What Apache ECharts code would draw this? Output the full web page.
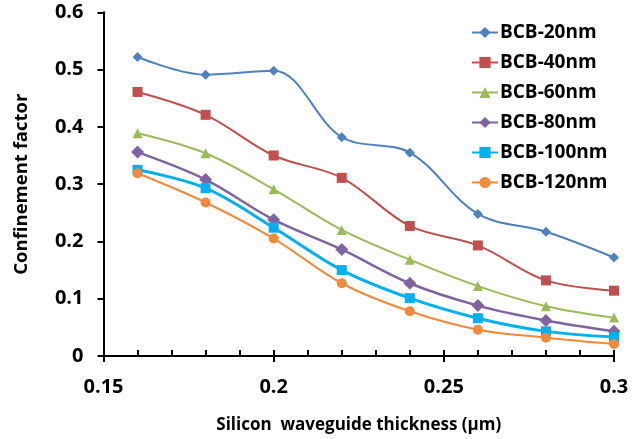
<!DOCTYPE html>
<html><head><meta charset="utf-8">
<script src="https://cdn.jsdelivr.net/npm/echarts@6/dist/echarts.min.js"></script>
<style>html,body{margin:0;padding:0;background:#fff}#c{width:643px;height:439px}</style>
</head><body><div id="c"></div>
<script>
const xValues = [0.16, 0.18, 0.20, 0.22, 0.24, 0.26, 0.28, 0.30];
const seriesNames = ['BCB-20nm','BCB-40nm','BCB-60nm','BCB-80nm','BCB-100nm','BCB-120nm'];
const bcb20  = [0.522, 0.491, 0.498, 0.382, 0.355, 0.248, 0.217, 0.172];
const bcb40  = [0.461, 0.421, 0.350, 0.311, 0.227, 0.193, 0.132, 0.114];
const bcb60  = [0.389, 0.354, 0.291, 0.220, 0.168, 0.122, 0.087, 0.067];
const bcb80  = [0.356, 0.308, 0.238, 0.186, 0.127, 0.088, 0.062, 0.043];
const bcb100 = [0.325, 0.293, 0.224, 0.150, 0.101, 0.066, 0.043, 0.033];
const bcb120 = [0.319, 0.268, 0.205, 0.127, 0.078, 0.046, 0.032, 0.021];
const yTicks = [0, 0.1, 0.2, 0.3, 0.4, 0.5, 0.6];
const xTicks = [0.15, 0.2, 0.25, 0.3];

const colors = ['#4F81BD','#C0504D','#9BBB59','#8064A2','#00B0F0','#F08A3C'];
const symbols = ['diamond','rect','triangle','diamond','rect','circle'];
const sizes = [10, 10, 10, 13, 10, 10];
const widths = [2, 2, 2, 2.5, 3, 2];
const all = [bcb20, bcb40, bcb60, bcb80, bcb100, bcb120];
const font = '"Open Sans", "DejaVu Sans", sans-serif';

const chart = echarts.init(document.getElementById('c'));
chart.setOption({
  animation: false,
  grid: {left: 103.5, right: 29, top: 12.3, bottom: 79.7, containLabel: false},
  legend: {
    orient: 'vertical', left: 466, top: 18, itemWidth: 26, itemHeight: 14, itemGap: 11,
    textStyle: {fontFamily: font, fontWeight: 'bold', fontSize: 19, color: '#000', padding: [0,0,0,-3]},
    data: seriesNames
  },
  xAxis: [{
    type: 'value', min: 0.15, max: 0.3, interval: 0.05,
    name: 'Silicon  waveguide thickness (μm)', nameLocation: 'middle', nameGap: 61,
    nameTextStyle: {fontFamily: font, fontWeight: 'bold', fontSize: 17, color: '#000'},
    axisLine: {lineStyle: {color: '#000', width: 2}},
    axisTick: {show: true, length: 6, lineStyle: {color: '#000', width: 2}},
    axisLabel: {fontFamily: font, fontWeight: 'bold', fontSize: 20, color: '#000', margin: 21,
      formatter: v => { const t = xTicks.find(x => Math.abs(x - v) < 1e-9); return t === undefined ? '' : String(t); }},
    splitLine: {show: false}
  }, {
    type: 'value', min: 0.15, max: 0.3, interval: 0.01, position: 'bottom',
    axisLine: {show: false},
    axisTick: {show: true, inside: true, length: 6, lineStyle: {color: '#000', width: 2}},
    axisLabel: {show: false}, splitLine: {show: false}
  }],
  yAxis: {
    type: 'value', min: 0, max: 0.6, interval: 0.1,
    name: 'Confinement factor', nameLocation: 'middle', nameGap: 72, nameRotate: 90,
    nameTextStyle: {fontFamily: font, fontWeight: 'bold', fontSize: 18.5, color: '#000'},
    axisLine: {show: true, lineStyle: {color: '#000', width: 2}},
    axisTick: {show: true, length: 6, lineStyle: {color: '#000', width: 2}},
    axisLabel: {fontFamily: font, fontWeight: 'bold', fontSize: 20, color: '#000', margin: 20,
      formatter: v => { const t = yTicks.find(x => Math.abs(x - v) < 1e-9); return t === undefined ? '' : String(t); }},
    splitLine: {show: false}
  },
  series: all.map((d, i) => ({
    name: seriesNames[i], type: 'line', smooth: 0.35, xAxisIndex: 0,
    data: xValues.map((x, j) => [x, d[j]]),
    symbol: symbols[i], symbolSize: sizes[i], showSymbol: true,
    lineStyle: {color: colors[i], width: widths[i]},
    itemStyle: {color: colors[i], borderWidth: 0}
  }))
});
</script></body></html>
